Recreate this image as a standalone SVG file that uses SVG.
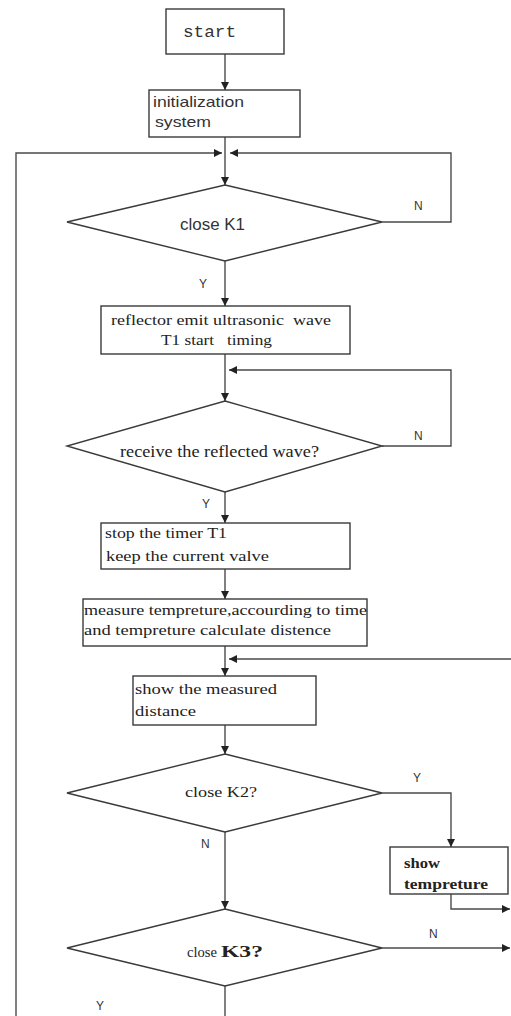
<svg xmlns="http://www.w3.org/2000/svg" width="511" height="1016" viewBox="0 0 511 1016">
<style>
.box{fill:#fff;stroke:#3a3a3a;stroke-width:1.4}
.line{fill:none;stroke:#4a4a4a;stroke-width:1.4}
.sans{font-family:"Liberation Sans",Arial,sans-serif;fill:#333}
.serif{font-family:"Liberation Serif","Times New Roman",serif;fill:#222}
.mono{font-family:"Liberation Mono","Courier New",monospace;fill:#333}
.lbl{font-family:"Liberation Sans",Arial,sans-serif;font-size:12px;fill:#333}
.bold{font-weight:bold}
</style>
<defs>
<marker id="arr" markerUnits="userSpaceOnUse" markerWidth="9" markerHeight="9" refX="8" refY="4" orient="auto">
<path d="M0,0 L8,4 L0,8 z" fill="#222"/>
</marker>
</defs>
<rect width="511" height="1016" fill="#fff"/>
<g id="connectors">
<path class="line" d="M225,54 V90" marker-end="url(#arr)"/>
<path class="line" d="M225,137 V185" marker-end="url(#arr)"/>
<path class="line" d="M16,1016 V153 H222" marker-end="url(#arr)"/>
<path class="line" d="M382,222 H451 V153 H230" marker-end="url(#arr)"/>
<path class="line" d="M225,261 V306" marker-end="url(#arr)"/>
<path class="line" d="M225,354 V401" marker-end="url(#arr)"/>
<path class="line" d="M382,446 H451 V370 H229" marker-end="url(#arr)"/>
<path class="line" d="M225,492 V523" marker-end="url(#arr)"/>
<path class="line" d="M225,569 V599" marker-end="url(#arr)"/>
<path class="line" d="M225,646 V676" marker-end="url(#arr)"/>
<path class="line" d="M511,659 H229" marker-end="url(#arr)"/>
<path class="line" d="M225,725 V754" marker-end="url(#arr)"/>
<path class="line" d="M382,793 H451 V847" marker-end="url(#arr)"/>
<path class="line" d="M225,832 V909" marker-end="url(#arr)"/>
<path class="line" d="M451,894 V909 H510" marker-end="url(#arr)"/>
<path class="line" d="M382,948 H510" marker-end="url(#arr)"/>
<path class="line" d="M225,986 V1016"/>
<text class="lbl" x="414" y="210">N</text>
<text class="lbl" x="199" y="288">Y</text>
<text class="lbl" x="414" y="440">N</text>
<text class="lbl" x="202" y="508">Y</text>
<text class="lbl" x="413" y="782">Y</text>
<text class="lbl" x="201" y="848">N</text>
<text class="lbl" x="429" y="938">N</text>
<text class="lbl" x="96" y="1010">Y</text>
</g>
<g id="start">
<rect class="box" x="166" y="9" width="118" height="45"/>
<text class="mono" x="183" y="37" font-size="16" textLength="53" lengthAdjust="spacingAndGlyphs">start</text>
</g>
<g id="init">
<rect class="box" x="149" y="90" width="151" height="47"/>
<text class="sans" x="153" y="107" font-size="15" textLength="91" lengthAdjust="spacingAndGlyphs">initialization</text>
<text class="sans" x="155" y="127" font-size="15" textLength="56" lengthAdjust="spacingAndGlyphs">system</text>
</g>
<g id="closeK1">
<polygon class="box" points="225,185 382,222 225,261 67,222"/>
<text class="sans" x="180" y="230" font-size="16" textLength="65" lengthAdjust="spacingAndGlyphs">close K1</text>
</g>
<g id="emit">
<rect class="box" x="101" y="306" width="249" height="48"/>
<text class="serif" x="111" y="325" font-size="15" textLength="220" lengthAdjust="spacingAndGlyphs" xml:space="preserve">reflector emit ultrasonic  wave</text>
<text class="serif" x="161" y="345" font-size="15" textLength="111" lengthAdjust="spacingAndGlyphs" xml:space="preserve">T1 start   timing</text>
</g>
<g id="receive">
<polygon class="box" points="225,401 382,446 225,492 67,446"/>
<text class="serif" x="120" y="457" font-size="16" textLength="199" lengthAdjust="spacingAndGlyphs">receive the reflected wave?</text>
</g>
<g id="stop">
<rect class="box" x="101" y="523" width="249" height="46"/>
<text class="serif" x="105" y="538" font-size="15" textLength="122" lengthAdjust="spacingAndGlyphs">stop the timer T1</text>
<text class="serif" x="106" y="561" font-size="15" textLength="163" lengthAdjust="spacingAndGlyphs">keep the current valve</text>
</g>
<g id="measure">
<rect class="box" x="83" y="599" width="284" height="47"/>
<text class="serif" x="84" y="615" font-size="15" textLength="283" lengthAdjust="spacingAndGlyphs">measure tempreture,accourding to time</text>
<text class="serif" x="84" y="635" font-size="15" textLength="247" lengthAdjust="spacingAndGlyphs">and tempreture calculate distence</text>
</g>
<g id="showdist">
<rect class="box" x="133" y="676" width="183" height="49"/>
<text class="serif" x="135" y="694" font-size="15" textLength="142" lengthAdjust="spacingAndGlyphs">show the measured</text>
<text class="serif" x="135" y="716" font-size="15" textLength="61" lengthAdjust="spacingAndGlyphs">distance</text>
</g>
<g id="closeK2">
<polygon class="box" points="225,754 382,793 225,832 67,793"/>
<text class="serif" x="185" y="797" font-size="15" textLength="72" lengthAdjust="spacingAndGlyphs">close K2?</text>
</g>
<g id="showtemp">
<rect class="box" x="390" y="847" width="118" height="47"/>
<text class="serif bold" x="404" y="868" font-size="15" textLength="36" lengthAdjust="spacingAndGlyphs">show</text>
<text class="serif bold" x="404" y="889" font-size="15" textLength="84" lengthAdjust="spacingAndGlyphs">tempreture</text>
</g>
<g id="closeK3">
<polygon class="box" points="225,909 382,948 225,986 67,948"/>
<text class="serif" x="187" y="957" font-size="15" textLength="30" lengthAdjust="spacingAndGlyphs">close</text>
<text class="serif bold" x="221" y="957" font-size="17" textLength="42" lengthAdjust="spacingAndGlyphs">K3?</text>
</g>
</svg>
